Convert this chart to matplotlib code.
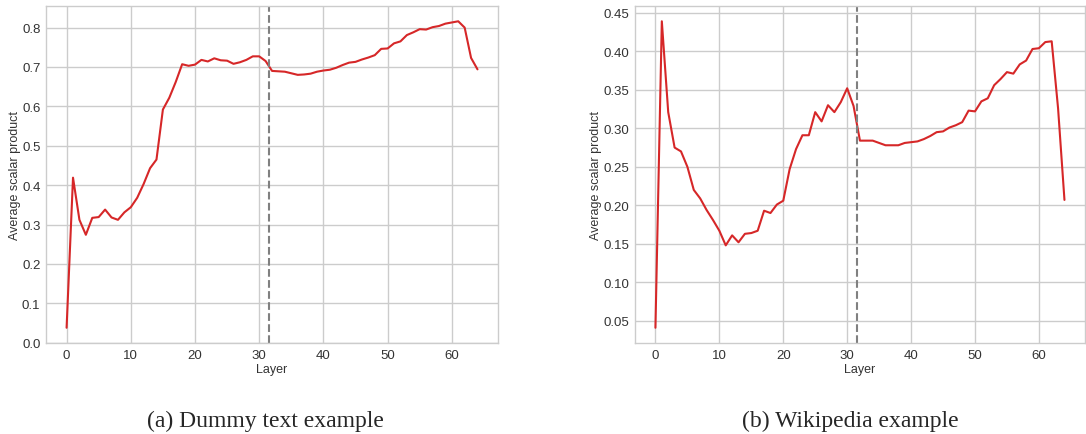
"""
Average scalar product per layer, two text examples side by side.
"""

import numpy as np
import matplotlib
matplotlib.use("Agg")
import matplotlib.pyplot as plt

# --- Data ---
layers = np.arange(65)

dummy_text = [
    0.038, 0.419, 0.312, 0.274, 0.317, 0.319, 0.338, 0.318, 0.312, 0.331,
    0.344, 0.368, 0.403, 0.443, 0.465, 0.592, 0.622, 0.662, 0.707, 0.703,
    0.706, 0.718, 0.714, 0.722, 0.717, 0.716, 0.708, 0.712, 0.718, 0.727,
    0.727, 0.715, 0.690, 0.689, 0.688, 0.684, 0.680, 0.681, 0.683, 0.688,
    0.691, 0.693, 0.698, 0.705, 0.711, 0.713, 0.719, 0.724, 0.730, 0.746,
    0.747, 0.760, 0.765, 0.781, 0.788, 0.796, 0.795, 0.801, 0.804, 0.810,
    0.813, 0.816, 0.800, 0.723, 0.694,
]

wikipedia = [
    0.041, 0.439, 0.321, 0.275, 0.270, 0.250, 0.220, 0.209, 0.194, 0.181,
    0.167, 0.148, 0.161, 0.152, 0.163, 0.164, 0.167, 0.193, 0.190, 0.201,
    0.206, 0.247, 0.273, 0.291, 0.291, 0.321, 0.309, 0.330, 0.321, 0.334,
    0.352, 0.329, 0.284, 0.284, 0.284, 0.281, 0.278, 0.278, 0.278, 0.281,
    0.282, 0.283, 0.286, 0.290, 0.295, 0.296, 0.301, 0.304, 0.308, 0.323,
    0.322, 0.335, 0.339, 0.356, 0.364, 0.373, 0.371, 0.383, 0.388, 0.403,
    0.404, 0.412, 0.413, 0.326, 0.207,
]

split_layer = 31.5
captions = ["(a) Dummy text example", "(b) Wikipedia example"]


def main():
    plt.style.use("seaborn-v0_8-whitegrid")
    plt.rcParams["font.family"] = ["Liberation Sans", "DejaVu Sans"]

    fig = plt.figure(figsize=(10.86, 4.35), dpi=100)
    ax_a = fig.add_axes([0.0424, 0.209, 0.4162, 0.775])
    ax_b = fig.add_axes([0.5847, 0.209, 0.4143, 0.775])

    for ax, values in [(ax_a, dummy_text), (ax_b, wikipedia)]:
        ax.plot(layers, values, color="#d62728", lw=1.5)
        ax.axvline(split_layer, color="grey", ls="--", lw=1.5)
        ax.set_xlabel("Layer", fontsize=9, color="#333333", labelpad=2)
        ax.set_ylabel("Average scalar product", fontsize=9, color="#333333",
                      labelpad=1)
        ax.tick_params(labelsize=9.5, colors="#333333", pad=4)
        ax.grid(True, color="#cccccc", lw=1)
        for sp in ax.spines.values():
            sp.set_visible(True)
            sp.set_color("#cccccc")
            sp.set_linewidth(1)
        ax.set_xticks([0, 10, 20, 30, 40, 50, 60])

    ax_a.set_yticks(np.arange(0, 0.81, 0.1))
    ax_a.yaxis.set_major_formatter(matplotlib.ticker.FormatStrFormatter("%.1f"))
    ax_b.set_yticks(np.arange(0.05, 0.451, 0.05))
    ax_b.yaxis.set_major_formatter(matplotlib.ticker.FormatStrFormatter("%.2f"))

    for x, text in zip([0.244, 0.783], captions):
        fig.text(x, 0.032, text, ha="center", va="center",
                 family=["Liberation Serif", "DejaVu Serif"], fontsize=17)

    fig.savefig("out.png", dpi=100)
    plt.close(fig)


if __name__ == "__main__":
    main()
